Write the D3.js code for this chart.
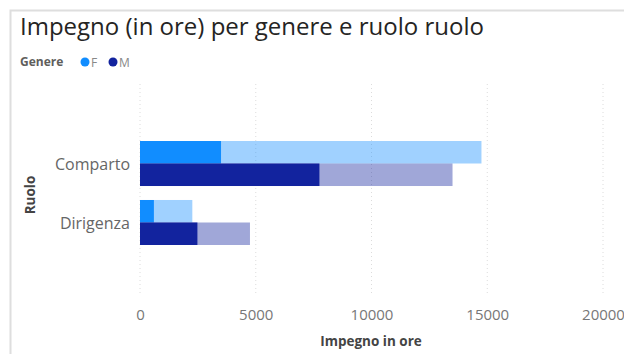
<!DOCTYPE html>
<html><head><meta charset="utf-8">
<script src="https://cdn.jsdelivr.net/npm/d3@7"></script>
<style>body{margin:0;background:#fff}svg{display:block}</style>
</head><body>
<svg id="c" width="624" height="354"></svg>
<script>
const categories = ["Comparto", "Dirigenza"];
const genders = ["F", "M"];
const highlighted = { F: [3500, 600], M: [7750, 2480] };
const totals = { F: [14750, 2260], M: [13500, 4750] };
const xTicks = [0, 5000, 10000, 15000, 20000];
const colors = { F: "#118DFF", M: "#12239E" };

const svg = d3.select("#c");
const font = "'Open Sans', 'Segoe UI', sans-serif";

// border
svg.append("path").attr("d", "M10.5,354 V10.5 H624").attr("fill", "none")
  .attr("stroke", "#dedede").attr("stroke-width", 2);

svg.append("text").attr("x", 20).attr("y", 35).text("Impegno (in ore) per genere e ruolo ruolo")
  .attr("font-family", font).attr("font-size", 24).attr("fill", "#252423");

// legend
const lg = svg.append("g").attr("font-family", font).attr("font-size", 12);
lg.append("text").attr("x", 20).attr("y", 66).text("Genere").attr("font-weight", "bold").attr("fill", "#605E5C");
let lx = 85;
genders.forEach(g => {
  lg.append("circle").attr("cx", lx).attr("cy", 62).attr("r", 4.5).attr("fill", colors[g]);
  lg.append("text").attr("x", lx + 6).attr("y", 66.5).text(g).attr("fill", "#888");
  lx += 28;
});

const x = d3.scaleLinear().domain([0, 20000]).range([140, 603]);
const y = d3.scaleBand().domain(categories).range([141, 245]).paddingInner(0.237).paddingOuter(0);
const ys = d3.scaleBand().domain(genders).range([0, y.bandwidth()]);

// gridlines
svg.append("g").selectAll("line").data(xTicks).join("line")
  .attr("x1", d => x(d)).attr("x2", d => x(d)).attr("y1", 84).attr("y2", 296)
  .attr("stroke", "#dcdcdc").attr("stroke-dasharray", "1,3").attr("stroke-width", 1);

// bars
categories.forEach((c, i) => {
  genders.forEach(g => {
    svg.append("rect").attr("x", x(0)).attr("y", y(c) + ys(g)).attr("height", ys.bandwidth())
      .attr("width", x(totals[g][i]) - x(0)).attr("fill", colors[g]).attr("opacity", 0.4);
    svg.append("rect").attr("x", x(0)).attr("y", y(c) + ys(g)).attr("height", ys.bandwidth())
      .attr("width", x(highlighted[g][i]) - x(0)).attr("fill", colors[g]);
  });
});

// x axis
const xa = svg.append("g").attr("transform", "translate(0,306)")
  .call(d3.axisBottom(x).tickValues(xTicks).tickFormat(d3.format("d")).tickSize(0));
xa.select(".domain").remove();
xa.selectAll("text").attr("font-family", font).attr("font-size", 15).attr("fill", "#777");

svg.append("text").attr("x", 371).attr("y", 346).attr("text-anchor", "middle")
  .text("Impegno in ore").attr("font-family", font).attr("font-size", 13.5).attr("font-weight", "bold").attr("fill", "#444");

// y axis
const ya = svg.append("g").attr("transform", "translate(130,1)")
  .call(d3.axisLeft(y).tickSize(0).tickPadding(0));
ya.select(".domain").remove();
ya.selectAll("text").attr("font-family", font).attr("font-size", 16).attr("fill", "#666");

svg.append("text").attr("transform", "translate(35,195) rotate(-90)").attr("text-anchor", "middle")
  .text("Ruolo").attr("font-family", font).attr("font-size", 13.5).attr("font-weight", "bold").attr("fill", "#444");
</script>
</body></html>
